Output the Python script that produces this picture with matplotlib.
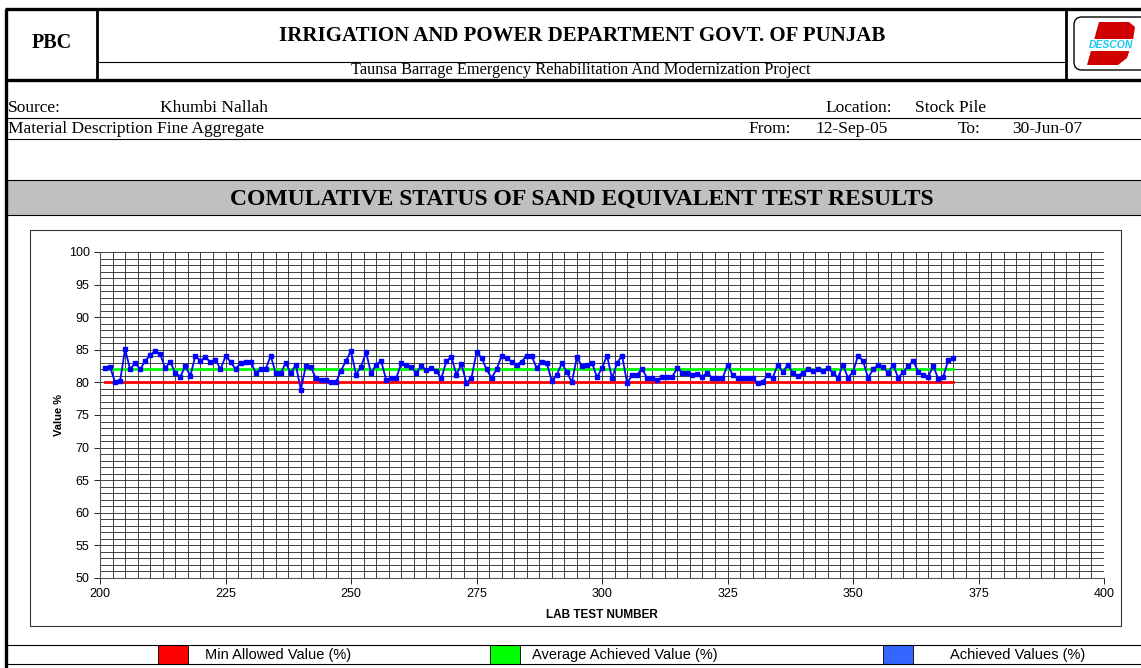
import matplotlib.pyplot as plt
import matplotlib.patches as mpatches
import numpy as np

# ---- data ----
test_no = list(range(201, 371))
achieved = [
    82.2, 82.4, 80.0, 80.2, 85.1, 82.0, 83.0, 82.0, 83.3, 84.2,
    84.8, 84.3, 82.2, 83.2, 81.4, 80.9, 82.5, 81.0, 84.1, 83.3,
    83.9, 83.1, 83.5, 82.0, 84.0, 83.2, 82.0, 83.0, 83.2, 83.2,
    81.5, 82.0, 82.0, 84.1, 81.4, 81.4, 83.0, 81.4, 82.7, 78.9,
    82.5, 82.4, 80.6, 80.4, 80.3, 80.1, 80.0, 81.8, 83.3, 84.8,
    81.2, 82.4, 84.6, 81.4, 82.7, 83.3, 80.4, 80.6, 80.6, 82.9,
    82.7, 82.3, 81.5, 82.5, 81.9, 82.2, 81.7, 80.6, 83.3, 83.9,
    81.2, 82.8, 79.9, 80.7, 84.6, 83.8, 82.0, 80.7, 82.0, 84.1,
    83.7, 83.2, 82.7, 83.2, 84.1, 84.0, 82.2, 83.2, 83.0, 80.2,
    81.2, 82.9, 81.6, 80.0, 83.9, 82.5, 82.7, 83.0, 80.8, 82.2,
    84.1, 80.6, 83.0, 84.1, 79.9, 81.1, 81.2, 82.1, 80.6, 80.6,
    80.3, 80.9, 80.9, 80.9, 82.2, 81.5, 81.5, 81.1, 81.3, 80.9,
    81.5, 80.6, 80.6, 80.6, 82.7, 81.2, 80.6, 80.6, 80.7, 80.7,
    79.9, 80.0, 81.2, 80.7, 82.7, 81.6, 82.7, 81.5, 81.0, 81.5,
    82.0, 81.7, 82.0, 81.8, 82.2, 81.5, 80.7, 82.7, 80.7, 81.6,
    84.1, 83.3, 80.7, 82.0, 82.7, 82.3, 81.5, 82.7, 80.7, 81.6,
    82.5, 83.3, 81.6, 81.1, 80.9, 82.5, 80.5, 80.9, 83.5, 83.7,
]
min_allowed = 80
avg_achieved = 82

W, H = 1141, 668
fig = plt.figure(figsize=(W / 100, H / 100), dpi=100)
fig.patch.set_facecolor("white")

# page layer in pixel coordinates
pg = fig.add_axes([0, 0, 1, 1])
pg.set_xlim(0, W)
pg.set_ylim(H, 0)
pg.axis("off")

serif = "Liberation Serif"
sans = "Liberation Sans"


def hline(y, x0, x1, lw=0.8, c="black"):
    pg.plot([x0, x1], [y, y], color=c, lw=lw, solid_capstyle="butt")


def vline(x, y0, y1, lw=0.8, c="black"):
    pg.plot([x, x], [y0, y1], color=c, lw=lw, solid_capstyle="butt")


# header block
hline(9, 5, W, lw=2.4)
hline(80, 5, W, lw=2.4)
vline(6, 9, H, lw=2.4)
vline(97, 9, 80, lw=2.0)
vline(1066, 9, 80, lw=2.0)
hline(62, 97, 1066, lw=0.8)
pg.text(52, 43, "PBC", family=serif, weight="bold", fontsize=14.5, ha="center", va="center")
pg.text(582, 36, "IRRIGATION AND POWER DEPARTMENT GOVT. OF PUNJAB", family=serif,
        weight="bold", fontsize=15, ha="center", va="center")
pg.text(581, 70, "Taunsa Barrage Emergency Rehabilitation And Modernization Project",
        family=serif, fontsize=11.8, ha="center", va="center")

# logo
pg.add_patch(mpatches.FancyBboxPatch((1074, 17), 80, 53, boxstyle="round,pad=0,rounding_size=8",
                                     fc="white", ec="black", lw=1.0))
pg.add_patch(mpatches.Polygon([[1099, 22], [1129, 22], [1135, 27], [1133, 40], [1127, 58],
                               [1118, 65], [1087, 65]],
                              closed=True, fc="#d00000", ec="none"))
pg.add_patch(mpatches.Rectangle((1084, 39), 57, 12, fc="white", ec="none"))
pg.text(1111, 45, "DESCON", family=sans, weight="bold", style="italic", fontsize=7.5,
        color="#18c8f0", ha="center", va="center")

# info rows
hline(118, 6, W, lw=0.8)
hline(139, 6, W, lw=0.8)
fs_info = 12.5
pg.text(8, 108, "Source:", family=serif, fontsize=fs_info, va="center")
pg.text(160, 108, "Khumbi Nallah", family=serif, fontsize=fs_info, va="center")
pg.text(825, 108, "Location:", family=serif, fontsize=fs_info, va="center")
pg.text(915, 108, "Stock Pile", family=serif, fontsize=fs_info, va="center")
pg.text(8, 129, "Material Description Fine Aggregate", family=serif, fontsize=fs_info, va="center")
pg.text(748, 129, "From:", family=serif, fontsize=fs_info, va="center")
pg.text(815, 129, "12-Sep-05", family=serif, fontsize=fs_info, va="center")
pg.text(958, 129, "To:", family=serif, fontsize=fs_info, va="center")
pg.text(1012, 129, "30-Jun-07", family=serif, fontsize=fs_info, va="center")

# title band
pg.add_patch(mpatches.Rectangle((6, 180), W - 6, 35, fc="#c0c0c0", ec="none"))
hline(180, 6, W, lw=0.8)
hline(215, 6, W, lw=0.8)
pg.text(582, 199, "COMULATIVE STATUS OF SAND EQUIVALENT TEST RESULTS", family=serif,
        weight="bold", fontsize=17, ha="center", va="center")

# chart area frame
pg.add_patch(mpatches.Rectangle((30, 230), 1091, 396, fc="white", ec="#333333", lw=0.8))

# legend row
hline(645, 6, W, lw=0.8)
hline(664, 6, W, lw=0.8)
for x0, col, label, tx in [(158, "#ff0000", "Min Allowed Value (%)", 278),
                           (490, "#00ff00", "Average Achieved Value (%)", 625),
                           (883, "#3366ff", "Achieved Values (%)", 1018)]:
    pg.add_patch(mpatches.Rectangle((x0, 645), 30, 19, fc=col, ec="black", lw=0.6))
    pg.text(tx, 655, label, family=sans, fontsize=10.5, ha="center", va="center")

# ---- the chart ----
ax = fig.add_axes([100 / W, (H - 578) / H, 1004 / W, 326 / H])
ax.set_xlim(200, 400)
ax.set_ylim(50, 100)
ax.set_xticks(np.arange(200, 401, 25))
ax.set_yticks(np.arange(50, 101, 5))
ax.set_xticks(np.arange(200, 401, 2.5), minor=True)
ax.set_yticks(np.arange(50, 101, 1), minor=True)
ax.grid(True, which="both", color="#222222", lw=0.6)
ax.tick_params(which="minor", length=0)
ax.tick_params(which="major", length=4, width=0.6, direction="out", labelsize=9,
               colors="black")
for lab in ax.get_xticklabels() + ax.get_yticklabels():
    lab.set_family(sans)
for side in ["top", "right"]:
    ax.spines[side].set_visible(False)
for side in ["left", "bottom"]:
    ax.spines[side].set_color("#555555")
    ax.spines[side].set_linewidth(0.8)

ax.plot([test_no[0], test_no[-1]], [min_allowed, min_allowed], color="#ff0000", lw=2, zorder=3)
ax.plot([test_no[0], test_no[-1]], [avg_achieved, avg_achieved], color="#00ff00", lw=2, zorder=3)
ax.plot(test_no, achieved, color="#0000ff", lw=1.3, marker="s", ms=2.4, zorder=4)

ax.set_xlabel("LAB TEST NUMBER", family=sans, weight="bold", fontsize=8.5, labelpad=6)
ax.set_ylabel("Value %", family=sans, weight="bold", fontsize=8, labelpad=3)

fig.savefig("out.png", dpi=100)
